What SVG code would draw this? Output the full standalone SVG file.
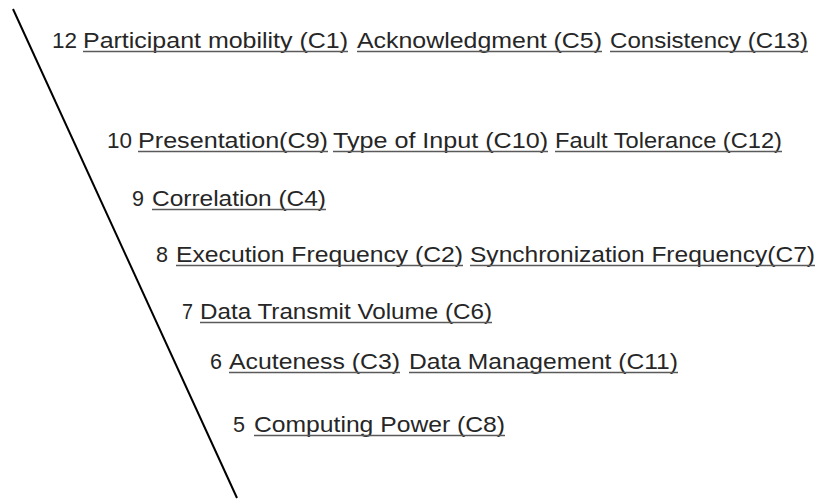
<svg xmlns="http://www.w3.org/2000/svg" width="819" height="502" viewBox="0 0 819 502">
  <style>
    text { font-family: "Liberation Sans", Arial, sans-serif; font-size: 22px; fill: #262626; }
    .ul { stroke: #5a5a5a; stroke-width: 1.3; }
  </style>
  <rect width="819" height="502" fill="#ffffff"/>

  <!-- descending scale axis -->
  <g id="axis">
    <line x1="13" y1="9" x2="237" y2="498" stroke="#000" stroke-width="2"/>
  </g>

  <g id="level-12">
    <text x="52" y="48" textLength="25" lengthAdjust="spacingAndGlyphs">12</text>
    <text x="83" y="48" textLength="265" lengthAdjust="spacingAndGlyphs">Participant mobility (C1)</text>
    <text x="357" y="48" textLength="245" lengthAdjust="spacingAndGlyphs">Acknowledgment (C5)</text>
    <text x="610" y="48" textLength="198" lengthAdjust="spacingAndGlyphs">Consistency (C13)</text>
    <line class="ul" x1="83" y1="51.5" x2="348" y2="51.5"/>
    <line class="ul" x1="357" y1="51.5" x2="602" y2="51.5"/>
    <line class="ul" x1="610" y1="51.5" x2="808" y2="51.5"/>
  </g>

  <g id="level-10">
    <text x="107" y="148" textLength="25" lengthAdjust="spacingAndGlyphs">10</text>
    <text x="138" y="148" textLength="190" lengthAdjust="spacingAndGlyphs">Presentation(C9)</text>
    <text x="333" y="148" textLength="215" lengthAdjust="spacingAndGlyphs">Type of Input (C10)</text>
    <text x="555" y="148" textLength="227" lengthAdjust="spacingAndGlyphs">Fault Tolerance (C12)</text>
    <line class="ul" x1="138" y1="151.5" x2="328" y2="151.5"/>
    <line class="ul" x1="333" y1="151.5" x2="548" y2="151.5"/>
    <line class="ul" x1="555" y1="151.5" x2="782" y2="151.5"/>
  </g>

  <g id="level-9">
    <text x="132" y="206" textLength="12" lengthAdjust="spacingAndGlyphs">9</text>
    <text x="152" y="206" textLength="174" lengthAdjust="spacingAndGlyphs">Correlation (C4)</text>
    <line class="ul" x1="152" y1="209.5" x2="326" y2="209.5"/>
  </g>

  <g id="level-8">
    <text x="156" y="262" textLength="12" lengthAdjust="spacingAndGlyphs">8</text>
    <text x="176" y="262" textLength="287" lengthAdjust="spacingAndGlyphs">Execution Frequency (C2)</text>
    <text x="470" y="262" textLength="345" lengthAdjust="spacingAndGlyphs">Synchronization Frequency(C7)</text>
    <line class="ul" x1="176" y1="265.5" x2="463" y2="265.5"/>
    <line class="ul" x1="470" y1="265.5" x2="815" y2="265.5"/>
  </g>

  <g id="level-7">
    <text x="182" y="319" textLength="11" lengthAdjust="spacingAndGlyphs">7</text>
    <text x="200" y="319" textLength="292" lengthAdjust="spacingAndGlyphs">Data Transmit Volume (C6)</text>
    <line class="ul" x1="200" y1="322.5" x2="492" y2="322.5"/>
  </g>

  <g id="level-6">
    <text x="210" y="369" textLength="12" lengthAdjust="spacingAndGlyphs">6</text>
    <text x="229" y="369" textLength="171" lengthAdjust="spacingAndGlyphs">Acuteness (C3)</text>
    <text x="409" y="369" textLength="269" lengthAdjust="spacingAndGlyphs">Data Management (C11)</text>
    <line class="ul" x1="229" y1="372.5" x2="400" y2="372.5"/>
    <line class="ul" x1="409" y1="372.5" x2="678" y2="372.5"/>
  </g>

  <g id="level-5">
    <text x="233" y="432" textLength="12" lengthAdjust="spacingAndGlyphs">5</text>
    <text x="254" y="432" textLength="251" lengthAdjust="spacingAndGlyphs">Computing Power (C8)</text>
    <line class="ul" x1="254" y1="435.5" x2="505" y2="435.5"/>
  </g>
</svg>
